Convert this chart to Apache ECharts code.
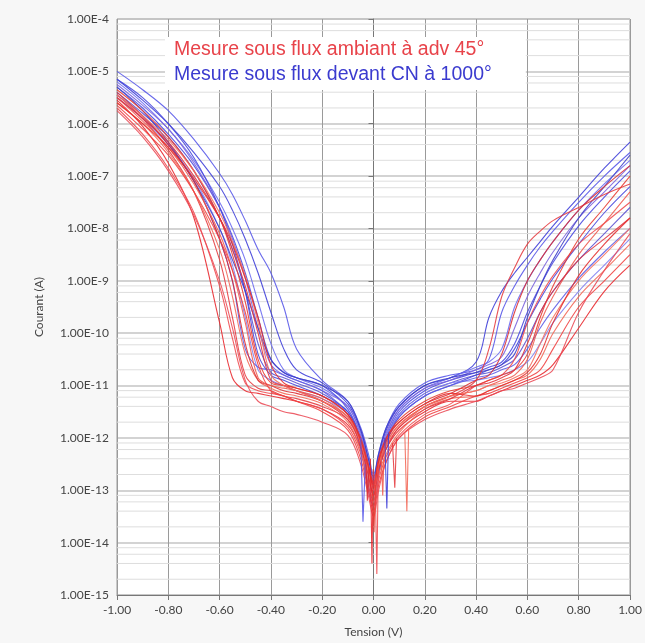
<!DOCTYPE html>
<html>
<head>
<meta charset="utf-8">
<script src="https://cdn.jsdelivr.net/npm/echarts@6/dist/echarts.min.js"></script>
<style>
html,body{margin:0;padding:0;background:#f7f7f7;}
#chart{width:645px;height:643px;}
</style>
</head>
<body>
<div id="chart"></div>
<script>
// Voltage grid (V)
const V = [-1, -0.9, -0.8, -0.7, -0.6, -0.55, -0.5, -0.45, -0.4, -0.35, -0.3, -0.2, -0.1, -0.05, -0.02, 0, 0.02, 0.05, 0.1, 0.2, 0.3, 0.4, 0.45, 0.5, 0.55, 0.6, 0.65, 0.7, 0.8, 0.9, 1];

// Current curves, stored as log10(I / A)
const red01 = [-5.55,-6.05,-6.75,-7.8,-9.8,-10.85,-11.1,-11.15,-11.2,-11.25,-11.3,-11.45, -11.75,-12.2,-12.7,-13.1,-12.6,-12.2,-11.85,-11.5,-11.3, -11.3,-11.2,-11.1,-11.0,-10.9,-10.8,-10.6,-9.9,-9.2,-8.7];
const red02 = [-5.7,-6.2,-6.85,-7.7,-9.1,-10.1,-10.95,-11.1,-11.15,-11.2,-11.3,-11.45, -11.8,-12.3,-12.9,-13.3,-12.8,-12.35,-11.95,-11.55,-11.35, -11.0,-10.9,-10.8,-10.5,-9.8,-9.3,-8.9,-8.3,-7.9,-7.5];
const red03 = [-5.45,-5.9,-6.5,-7.3,-8.6,-9.7,-10.8,-11.05,-11.1,-11.2,-11.25,-11.4, -11.65,-12.1,-12.6,-12.9,-12.5,-12.1,-11.75,-11.4,-11.2, -10.9,-10.3,-9.3,-8.75,-8.3,-8.05,-7.85,-7.6,-7.35,-7.15];
const red04 = [-5.6,-6.0,-6.55,-7.3,-8.4,-9.3,-10.4,-10.9,-11.05,-11.15,-11.2,-11.35, -11.7,-12.25,-12.8,-13.2,-12.7,-12.3,-11.9,-11.45,-11.25, -11.2,-11.1,-11.0,-10.9,-10.8,-10.5,-10.0,-9.3,-8.8,-8.3];
const red05 = [-5.4,-5.85,-6.4,-7.1,-8.2,-9.0,-10.2,-10.9,-11.0,-11.1,-11.15,-11.3, -11.6,-12.1,-12.55,-12.85,-12.45,-12.05,-11.7,-11.35,-11.15, -10.9,-10.8,-10.4,-9.6,-9.0,-8.6,-8.25,-7.65,-7.2,-6.8];
const red06 = [-5.5,-5.95,-6.45,-7.15,-8.1,-8.8,-9.8,-10.85,-11.0,-11.05,-11.1,-11.25, -11.6,-12.05,-12.6,-13.0,-12.55,-12.15,-11.8,-11.4,-11.2, -11.1,-11.0,-10.9,-10.8,-10.5,-9.8,-9.3,-8.5,-7.9,-7.3];
const red07 = [-5.35,-5.75,-6.25,-6.9,-7.8,-8.5,-9.4,-10.5,-10.95,-11.0,-11.05,-11.2, -11.55,-12.0,-12.5,-12.9,-12.4,-12.0,-11.65,-11.3,-11.1, -11.0,-10.9,-10.8,-10.7,-10.4,-9.7,-9.1,-8.2,-7.6,-7.0];
const red08 = [-5.65,-6.1,-6.6,-7.3,-8.2,-8.8,-9.6,-10.6,-11.1,-11.2,-11.3,-11.5, -11.85,-12.4,-13.0,-13.4,-12.9,-12.45,-12.0,-11.6,-11.4, -11.2,-11.15,-11.05,-10.95,-10.85,-10.7,-10.3,-9.5,-9.0,-8.5];
const red09 = [-5.5,-5.9,-6.35,-7.0,-7.8,-8.4,-9.1,-10.0,-10.9,-11.0,-11.1,-11.3, -11.65,-12.15,-12.7,-13.1,-12.6,-12.2,-11.8,-11.45,-11.25, -11.0,-10.95,-10.85,-10.7,-10.2,-9.6,-9.2,-8.6,-8.2,-7.8];
const red10 = [-5.45,-5.85,-6.3,-6.9,-7.7,-8.25,-8.9,-9.8,-10.8,-11.0,-11.1,-11.3, -11.6,-12.1,-12.65,-13.0,-12.5,-12.1,-11.75,-11.4,-11.2, -11.1,-11.0,-10.95,-10.85,-10.7,-10.2,-9.7,-9.0,-8.5,-8.0];
const red11 = [-5.6,-6.0,-6.45,-7.05,-7.8,-8.3,-8.95,-9.7,-10.6,-10.95,-11.05,-11.2, -11.55,-12.05,-12.55,-12.95,-12.45,-12.0,-11.7,-11.35,-11.15, -11.2,-11.1,-11.0,-10.9,-10.75,-10.4,-9.8,-8.9,-8.3,-7.8];
const red12 = [-5.75,-6.25,-6.9,-7.75,-9.0,-9.9,-10.9,-11.3,-11.4,-11.5,-11.55,-11.7, -11.95,-12.5,-13.1,-13.5,-13.0,-12.45,-12.0,-11.65,-11.45, -11.3,-11.2,-11.1,-11.05,-10.95,-10.85,-10.7,-9.6,-8.8,-8.1];

const blue01 = [-5.0,-5.35,-5.75,-6.3,-6.95,-7.35,-7.85,-8.4,-8.85,-9.5,-10.3,-10.9, -11.3,-11.8,-12.3,-12.7,-12.3,-11.8,-11.35,-10.95,-10.8, -10.7,-10.5,-9.6,-9.1,-8.7,-8.35,-8.05,-7.5,-7.0,-6.55];
const blue02 = [-5.15,-5.55,-6.0,-6.55,-7.2,-7.65,-8.2,-8.85,-9.6,-10.3,-10.7,-10.95, -11.35,-11.85,-12.4,-12.8,-12.35,-11.85,-11.4,-11.0,-10.85, -10.55,-9.7,-9.2,-8.85,-8.55,-8.25,-7.95,-7.4,-6.85,-6.35];
const blue03 = [-5.2,-5.6,-6.1,-6.7,-7.5,-8.0,-8.6,-9.4,-10.2,-10.7,-10.85,-11.05, -11.4,-11.9,-12.5,-12.9,-12.45,-11.95,-11.45,-11.05,-10.85, -10.65,-10.55,-10.3,-9.5,-9.0,-8.6,-8.25,-7.65,-7.15,-6.7];
const blue04 = [-5.3,-5.7,-6.2,-6.8,-7.6,-8.15,-8.85,-9.7,-10.5,-10.75,-10.85,-11.0, -11.45,-12.0,-12.6,-13.0,-12.5,-12.0,-11.5,-11.1,-10.9, -10.75,-10.65,-10.55,-10.2,-9.6,-9.1,-8.65,-7.95,-7.4,-6.9];
const blue05 = [-5.25,-5.65,-6.1,-6.75,-7.6,-8.2,-8.95,-9.9,-10.6,-10.8,-10.9,-11.1, -11.4,-11.95,-12.5,-12.85,-12.4,-11.9,-11.45,-11.05,-10.9, -10.7,-10.6,-10.45,-9.9,-9.3,-8.85,-8.45,-7.8,-7.3,-6.8];
const blue06 = [-5.4,-5.8,-6.25,-6.9,-7.8,-8.4,-9.2,-10.2,-10.75,-10.85,-10.95,-11.15, -11.5,-12.05,-12.7,-13.1,-12.6,-12.05,-11.55,-11.15,-10.95, -10.8,-10.75,-10.65,-10.5,-10.1,-9.6,-9.2,-8.6,-8.1,-7.6];
const blue07 = [-5.15,-5.5,-6.0,-6.65,-7.6,-8.3,-9.2,-10.4,-10.8,-10.9,-11.0,-11.2, -11.5,-12.1,-12.9,-13.2,-12.7,-12.1,-11.6,-11.2,-11.0, -10.8,-10.7,-10.6,-10.3,-9.8,-9.35,-8.95,-8.3,-7.7,-7.2];
const blue08 = [-5.5,-5.9,-6.4,-7.05,-8.0,-8.7,-9.7,-10.7,-10.9,-11.0,-11.1,-11.25, -11.55,-12.15,-12.8,-13.1,-12.6,-12.05,-11.55,-11.15,-10.95, -10.9,-10.85,-10.8,-10.7,-10.55,-10.2,-9.8,-9.2,-8.7,-8.2];
const blue09 = [-5.45,-5.85,-6.4,-7.1,-8.2,-9.0,-10.3,-10.65,-10.7,-10.8,-10.9,-11.1, -11.55,-12.2,-13.0,-13.3,-12.7,-12.1,-11.6,-11.2,-11.0, -10.85,-10.8,-10.7,-10.6,-10.3,-9.9,-9.55,-8.95,-8.45,-8.0];
const blue10 = [-5.3,-5.75,-6.35,-7.1,-8.0,-8.6,-9.2,-9.9,-10.5,-10.75,-10.85,-11.0, -11.3,-11.85,-12.4,-12.75,-12.3,-11.8,-11.4,-11.0,-10.85, -10.75,-10.7,-10.6,-10.4,-9.7,-9.1,-8.6,-7.8,-7.2,-6.6];

// Narrow noise spikes near 0 V: [V, log10(I)]
const redSpikes = [
  [[-0.012,-12.4],[-0.006,-14.4],[-0.001,-12.6]],
  [[0.006,-12.7],[0.013,-14.6],[0.019,-12.5]],
  [[0.074,-12.1],[0.083,-12.95],[0.09,-12.0]],
  [[0.122,-11.9],[0.13,-13.4],[0.137,-11.85]],
  [[-0.03,-12.4],[-0.024,-13.2],[-0.018,-12.6]],
  [[0.03,-12.3],[0.036,-13.1],[0.042,-12.2]],
  [[-0.004,-13.0],[0.002,-13.8],[0.007,-12.9]]
];
const blueSpikes = [
  [[-0.05,-12.0],[-0.041,-13.6],[-0.032,-12.5]],
  [[0.044,-12.0],[0.052,-13.35],[0.059,-11.9]]
];

const redName = 'Mesure sous flux ambiant à adv 45°';
const blueName = 'Mesure sous flux devant CN à 1000°';
const redCurves = [red01, red02, red03, red04, red05, red06, red07, red08, red09, red10, red11, red12];
const blueCurves = [blue01, blue02, blue03, blue04, blue05, blue06, blue07, blue08, blue09, blue10];
const redColors = ['#e8252b','#f0494d','#e53a3f','#f26655','#db2d33','#ef5a4e','#e83a30','#f04040','#e0333d','#f5705f','#e52d2d','#ea4a55'];
const blueColors = ['#5555e8','#3c3cd8','#6a6af0','#4848e0','#7a62dd','#5a4fd0','#4444dd','#8080f0','#5c5ce6','#3f3fc8'];

const toCurrent = e => Math.pow(10, e);
// log-axis minor grid at 2, 4, 6, 8 × 10^n
const minorMantissas = [2, 4, 6, 8];
const minorValues = [];
for (let ex = -15; ex < -4; ex++) { minorMantissas.forEach(m => minorValues.push(m * Math.pow(10, ex))); }

const lineBase = (name, color, data) => ({
  type: 'line', name, data, showSymbol: false, symbol: 'none',
  smooth: 0.35,
  lineStyle: { color, width: 1.1, opacity: 0.88 }, itemStyle: { color },
  z: 3, silent: true
});

const series = [];
minorValues.forEach(v => series.push({
  type: 'line', data: [[-1, v], [1, v]], silent: true, z: 1, symbol: 'none', showSymbol: false,
  lineStyle: { color: '#dedede', width: 1 }, emphasis: { disabled: true }
}));
blueCurves.forEach((c, i) => series.push(lineBase(blueName, blueColors[i], c.map((e, j) => [V[j], toCurrent(e)]))));
redCurves.forEach((c, i) => series.push(lineBase(redName, redColors[i % redColors.length], c.map((e, j) => [V[j], toCurrent(e)]))));
blueSpikes.forEach((s, i) => series.push(Object.assign(lineBase(blueName, blueColors[i], s.map(p => [p[0], toCurrent(p[1])])), { smooth: false })));
redSpikes.forEach((s, i) => series.push(Object.assign(lineBase(redName, redColors[i], s.map(p => [p[0], toCurrent(p[1])])), { smooth: false })));

const labelFont = { fontFamily: 'Lato', fontSize: 12, color: '#444' };
const chart = echarts.init(document.getElementById('chart'), null, { renderer: 'canvas' });
chart.setOption({
  animation: false,
  backgroundColor: '#f7f7f7',
  grid: { left: 117, right: 15, top: 19, bottom: 46, show: true, backgroundColor: '#ffffff', borderColor: '#9a9a9a', borderWidth: 1 },
  legend: {
    left: 165, top: 37, orient: 'vertical', selectedMode: false,
    backgroundColor: '#ffffff', padding: [3, 34, 5, 4], itemGap: 5,
    itemWidth: 0, itemHeight: 0,
    textStyle: { fontFamily: 'Liberation Sans', fontSize: 19.5 },
    data: [
      { name: redName, icon: 'none', textStyle: { color: '#e8434a' } },
      { name: blueName, icon: 'none', textStyle: { color: '#3b3bcf' } }
    ]
  },
  xAxis: {
    type: 'value', min: -1, max: 1, interval: 0.2,
    name: 'Tension (V)', nameLocation: 'middle', nameGap: 31,
    nameTextStyle: labelFont,
    axisLine: { lineStyle: { color: '#777' } },
    axisTick: { show: true, length: 5, lineStyle: { color: '#777' } },
    axisLabel: Object.assign({ margin: 9, formatter: v => (Math.abs(v) < 1e-9 ? '0.00' : v.toFixed(2)) }, labelFont),
    splitLine: { show: true, lineStyle: { color: '#9a9a9a', width: 1 } }
  },
  yAxis: {
    type: 'log', logBase: 10, min: 1e-15, max: 1e-4, interval: 1,
    name: 'Courant (A)', nameLocation: 'middle', nameGap: 72, nameRotate: 90,
    nameTextStyle: labelFont,
    axisLine: { show: true, lineStyle: { color: '#777' } },
    axisTick: { show: true, length: 5, lineStyle: { color: '#777' } },
    axisLabel: Object.assign({ margin: 8, formatter: v => '1.00E' + Math.round(Math.log10(v)) }, labelFont),
    splitLine: { show: true, lineStyle: { color: '#c4c4c4', width: 1.5 } },
    minorTick: { show: false }, minorSplitLine: { show: false }
  },
  series
});
</script>
</body>
</html>
